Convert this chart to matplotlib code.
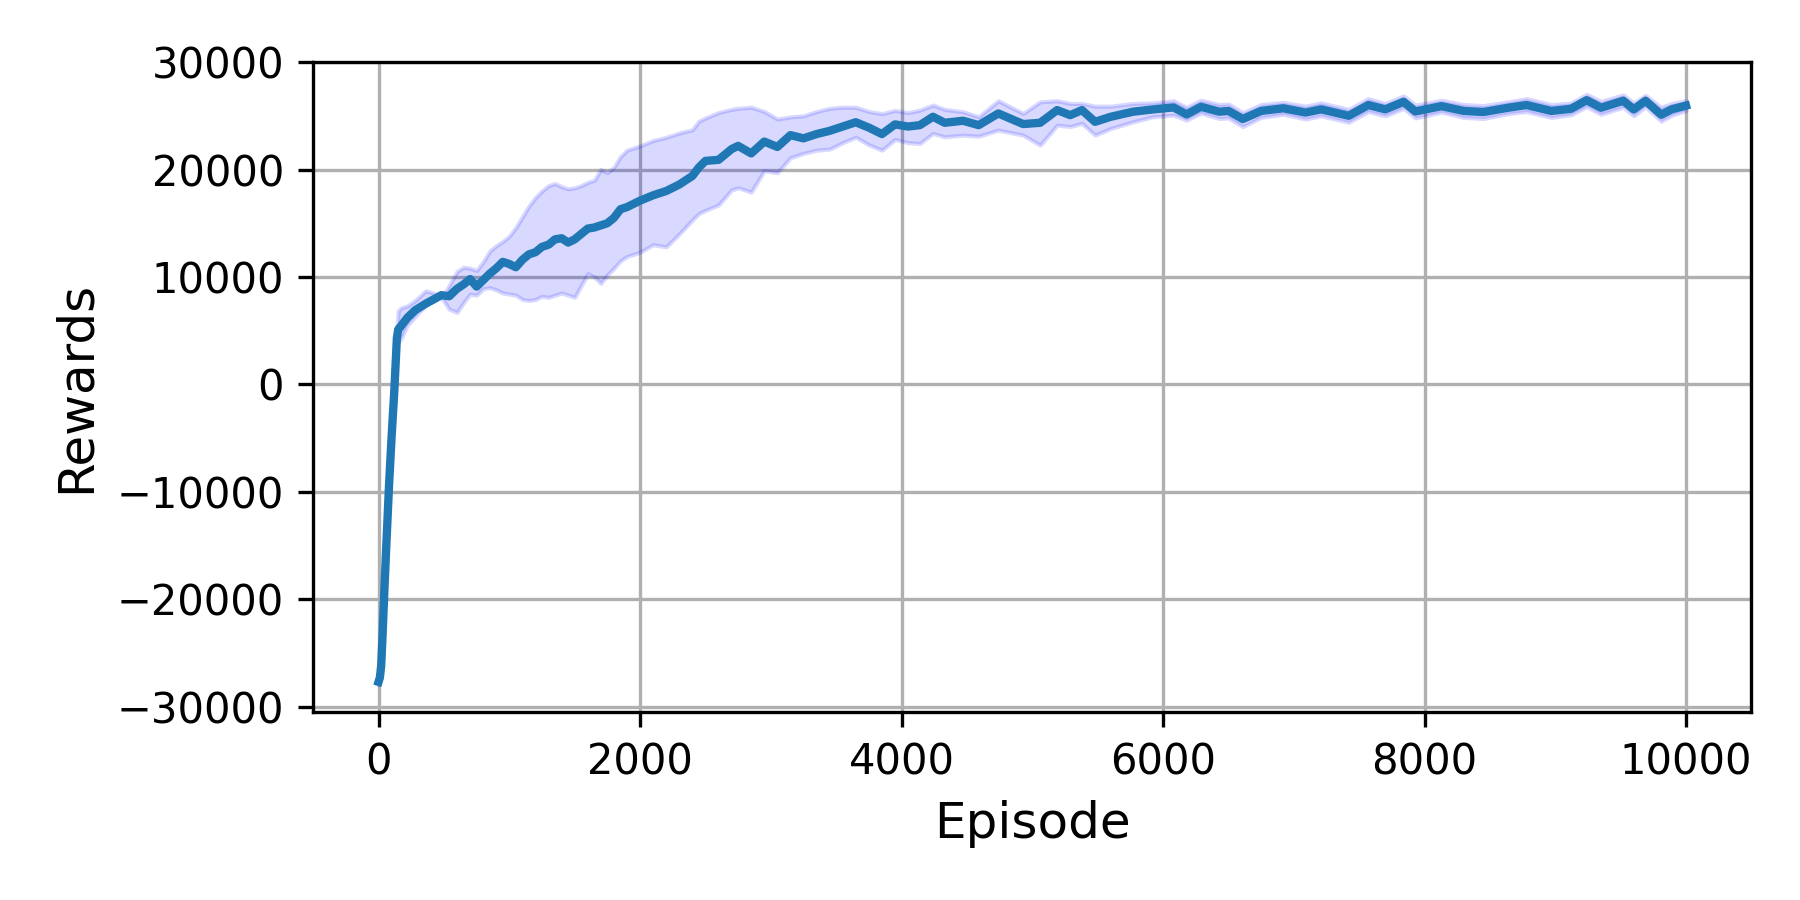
import matplotlib
matplotlib.use("Agg")
import matplotlib.pyplot as plt
import numpy as np

episodes = [0, 10, 20, 30, 45, 60, 80, 100, 120, 140, 150, 170, 220, 280, 360, 420, 480, 540,
            600, 650, 700, 750, 800, 850, 900, 950, 1000, 1050, 1100, 1150, 1200, 1250, 1300,
            1350, 1400, 1450, 1500, 1550, 1600, 1650, 1700, 1750, 1800, 1850, 1900, 2000, 2100,
            2200, 2300, 2400, 2450, 2500, 2600, 2700, 2750, 2850, 2950, 3050, 3150, 3250, 3350,
            3450, 3550, 3650, 3750, 3850, 3950, 4050, 4140, 4240, 4330, 4470, 4590, 4740, 4930,
            5060, 5190, 5290, 5380, 5480, 5600, 5770, 5920, 6080, 6180, 6290, 6430, 6500, 6610,
            6750, 6920, 7090, 7210, 7420, 7570, 7700, 7840, 7930, 8130, 8300, 8450, 8640, 8780,
            8970, 9120, 9240, 9350, 9520, 9600, 9690, 9810, 9890, 10000]

mean_reward = [-27700, -27300, -26200, -23500, -19000, -14800, -9400, -4800, -700, 4300, 5100,
               5400, 6200, 6900, 7500, 7900, 8300, 8200, 8900, 9300, 9800, 9100, 9700, 10300,
               10800, 11400, 11200, 10900, 11600, 12100, 12300, 12800, 13000, 13500, 13600,
               13200, 13500, 14000, 14500, 14600, 14800, 15000, 15500, 16300, 16500, 17100,
               17600, 18000, 18600, 19400, 20200, 20800, 20900, 21900, 22200, 21500, 22600,
               22100, 23200, 22900, 23300, 23600, 24000, 24400, 23900, 23300, 24200, 24000,
               24130, 24910, 24350, 24540, 24130, 25220, 24230, 24350, 25530, 25060, 25530,
               24440, 24910, 25380, 25590, 25780, 25130, 25840, 25380, 25450, 24700, 25450,
               25700, 25300, 25600, 25000, 26000, 25600, 26300, 25400, 25900, 25450, 25350,
               25750, 26000, 25450, 25650, 26450, 25750, 26400, 25600, 26400, 25100, 25600,
               25950]

upper_reward = [-27400, -27000, -25900, -23200, -18700, -14500, -9100, -4500, -400, 5000, 6800,
                7100, 7300, 7800, 8700, 8500, 8000, 9200, 10500, 10900, 10800, 10600, 11400,
                12400, 12900, 13300, 13800, 14600, 15600, 16600, 17400, 18000, 18500, 18700,
                18400, 18200, 18300, 18500, 18800, 19000, 20000, 19700, 20200, 21200, 21800,
                22200, 22700, 23000, 23400, 23700, 24500, 24800, 25300, 25600, 25700, 25800,
                25400, 24700, 24900, 25000, 25400, 25700, 25800, 25800, 25400, 25200, 25500,
                25300, 25530, 26000, 25600, 25380, 24910, 26400, 25220, 26300, 26400, 26150,
                26150, 25900, 25900, 26150, 26200, 26400, 25800, 26450, 26050, 26100, 25300,
                26050, 26250, 25900, 26200, 25600, 26600, 26150, 26850, 26000, 26450, 26050,
                25950, 26300, 26600, 26050, 26200, 27000, 26350, 26950, 26200, 26900, 25800,
                26150, 26400]

lower_reward = [-28000, -27600, -26500, -23800, -19300, -15100, -9700, -5100, -1000, 3800, 3900,
                4200, 5500, 6300, 7400, 8000, 8100, 7000, 6700, 7600, 8400, 8300, 8900, 9000,
                8800, 8500, 8400, 8300, 7900, 7800, 7900, 8200, 8100, 8300, 8500, 8300, 8100,
                9200, 10300, 10000, 9400, 10200, 10800, 11500, 11900, 12300, 13000, 12800, 14000,
                15300, 15900, 16200, 16700, 18100, 18300, 17900, 19900, 19700, 21100, 21500,
                21800, 21900, 22500, 23000, 22300, 21800, 22800, 22500, 22420, 23360, 23040,
                23200, 23100, 23670, 23200, 22270, 24130, 24000, 24300, 23200, 23820, 24440,
                24910, 25060, 24600, 25250, 24750, 24800, 24000, 24850, 25150, 24700, 25000,
                24400, 25400, 25000, 25700, 24800, 25350, 24850, 24750, 25200, 25400, 24850,
                25100, 25850, 25150, 25800, 25000, 25850, 24500, 25050, 25500]

plt.rcParams['font.family'] = ['DejaVu Sans']

fig, ax = plt.subplots(figsize=(6, 3), dpi=300)
fig.subplots_adjust(left=0.174, right=0.973, top=0.931, bottom=0.209)

ax.plot(episodes, mean_reward, color='#1f77b4', linewidth=2.0, zorder=3)
ax.fill_between(episodes, lower_reward, upper_reward, facecolor='blue', edgecolor='blue',
                linewidth=1.0, alpha=0.15, zorder=2)

ax.set_xlim(-500, 10500)
ax.set_ylim(-30500, 30000)
ax.set_xticks([0, 2000, 4000, 6000, 8000, 10000])
ax.set_yticks([-30000, -20000, -10000, 0, 10000, 20000, 30000])
ax.tick_params(labelsize=10)
ax.grid(True, color='#b0b0b0', linewidth=0.8)
ax.set_axisbelow(True)
ax.set_xlabel('Episode', fontsize=12)
ax.set_ylabel('Rewards', fontsize=12)

fig.savefig('out.png', dpi=300)
